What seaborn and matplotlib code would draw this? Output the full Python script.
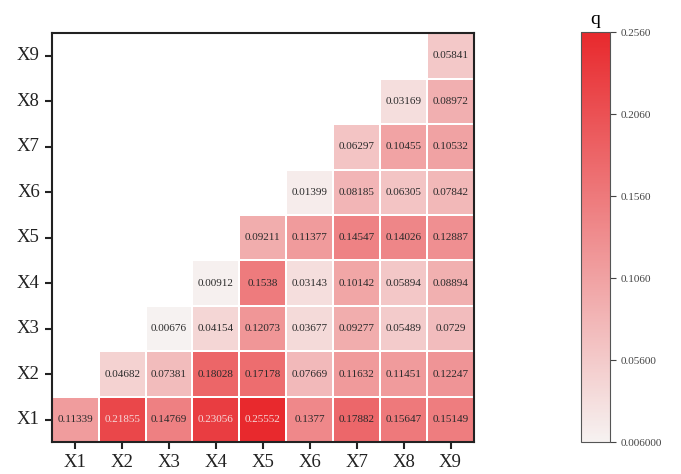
import numpy as np
import pandas as pd
import matplotlib
matplotlib.use('Agg')
import matplotlib.pyplot as plt
import seaborn as sns
from matplotlib.colors import LinearSegmentedColormap
from matplotlib.ticker import FormatStrFormatter

# Interaction q values, row Xi holds columns Xi..X9
labels = ['X1', 'X2', 'X3', 'X4', 'X5', 'X6', 'X7', 'X8', 'X9']
row_x1 = [0.11339, 0.21855, 0.14769, 0.23056, 0.25552, 0.1377, 0.17882, 0.15647, 0.15149]
row_x2 = [0.04682, 0.07381, 0.18028, 0.17178, 0.07669, 0.11632, 0.11451, 0.12247]
row_x3 = [0.00676, 0.04154, 0.12073, 0.03677, 0.09277, 0.05489, 0.0729]
row_x4 = [0.00912, 0.1538, 0.03143, 0.10142, 0.05894, 0.08894]
row_x5 = [0.09211, 0.11377, 0.14547, 0.14026, 0.12887]
row_x6 = [0.01399, 0.08185, 0.06305, 0.07842]
row_x7 = [0.06297, 0.10455, 0.10532]
row_x8 = [0.03169, 0.08972]
row_x9 = [0.05841]
cbar_ticks = [0.006, 0.056, 0.106, 0.156, 0.206, 0.256]

rows = [row_x1, row_x2, row_x3, row_x4, row_x5, row_x6, row_x7, row_x8, row_x9]
n = len(labels)
mat = np.full((n, n), np.nan)
for i, r in enumerate(rows):
    mat[i, i:] = r
df = pd.DataFrame(mat, index=labels, columns=labels)
df = df.iloc[::-1]  # X1 at the bottom

plt.rcParams['font.family'] = ['Liberation Serif', 'DejaVu Serif']

cmap = LinearSegmentedColormap.from_list('q', ['#f6f2f1', '#e8292d'])

fig = plt.figure(figsize=(6.81, 4.74), dpi=100)
ax = fig.add_axes([0.076, 0.067, 0.62, 0.863])
cax = fig.add_axes([0.853, 0.067, 0.043, 0.865])

annot = df.map(lambda v: '' if np.isnan(v) else f'{v:.5g}')
sns.heatmap(df, ax=ax, cbar_ax=cax, cmap=cmap, vmin=0.006, vmax=0.256,
            mask=df.isna(), annot=annot, fmt='', linewidths=1.2, linecolor='white',
            annot_kws={'fontsize': 8, 'color': '#2a2a2a'})

# light text on the darkest cells
for t in ax.texts:
    if t.get_text() and float(t.get_text()) > 0.2:
        t.set_color('#f6dada')

ax.set_xlabel('')
ax.set_ylabel('')
ax.tick_params(axis='both', direction='out', length=5, width=1.5, labelsize=13.5, colors='#222222')
ax.set_yticklabels(ax.get_yticklabels(), rotation=0)
ax.set_xticklabels(ax.get_xticklabels(), rotation=0)
for s in ax.spines.values():
    s.set_visible(True)
    s.set_linewidth(1.5)
    s.set_color('#222222')

cbar = ax.collections[0].colorbar
cbar.set_ticks(cbar_ticks)
cbar.ax.yaxis.set_major_formatter(FormatStrFormatter('%#.4g'))
cbar.ax.tick_params(labelsize=8, length=4, width=0.8, colors='#444444')
cbar.outline.set_edgecolor('#555555')
cbar.outline.set_linewidth(0.8)
cax.set_title('q', fontsize=14, pad=6)

fig.savefig('out.png', dpi=100)
